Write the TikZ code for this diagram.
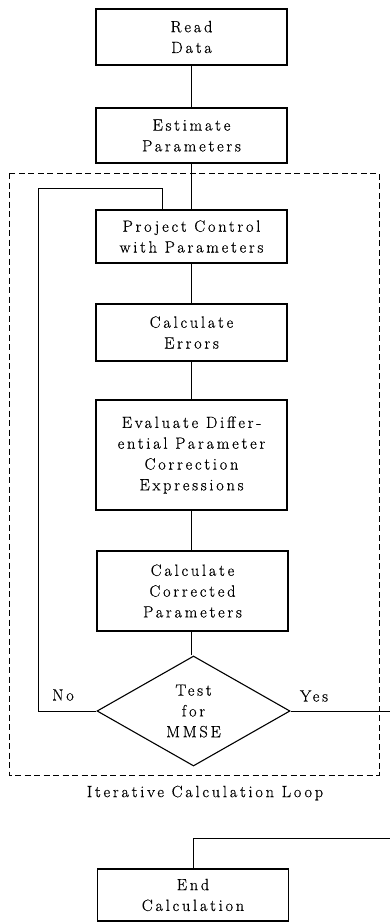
\documentclass[tikz,border=0pt]{standalone}
\usepackage{fontspec}
\setmainfont{Latin Modern Roman}[LetterSpace=17,FakeBold=0.5]
\usetikzlibrary{shapes.geometric}
\begin{document}
\begin{tikzpicture}[x=1pt,y=-1pt,
  txt/.style={font=\fontsize{16.3}{20.8}\selectfont, align=center},
  stepbox/.style={txt, draw, line width=1.1pt, minimum width=191pt, inner sep=0pt},
  conn/.style={line width=1pt},
  loopframe/.style={line width=0.9pt, dash pattern=on 6pt off 3.5pt}]
\useasboundingbox (0,0) rectangle (390,922);
\node[stepbox, minimum height=56pt] (read) at (191.5,37) {Read\\Data};
\node[stepbox, minimum height=55pt] (est) at (191.5,135.5) {Estimate\\Parameters};
\node[stepbox, minimum height=53pt] (proj) at (191.5,236.5) {Project Control\\with Parameters};
\node[stepbox, minimum height=57pt] (err) at (191.5,332.5) {Calculate\\Errors};
\node[stepbox, minimum height=110pt] (eval) at (191.5,455) {Evaluate Differ-\\ential Parameter\\Correction\\Expressions};
\node[stepbox, minimum height=80pt] (corr) at (192.5,591) {Calculate\\Corrected\\Parameters};
\node[txt, draw, line width=1.1pt, diamond, inner sep=0pt, minimum width=193pt, minimum height=110pt, aspect=1.75] (test) at (193.5,711) {Test\\for\\MMSE};
\node[stepbox, minimum height=52pt] (end) at (193,895) {End\\Calculation};
\node[txt] (no) at (63,695) {No};
\node[txt] (yes) at (314,696) {Yes};
\node[txt] (caption) at (205,793) {Iterative Calculation Loop};
\draw[loopframe] (9,173) rectangle (379,775);
\coordinate (nocorner) at (38,711);
\coordinate (lefttop) at (38,188);
\coordinate (righttop) at (162,188);
\coordinate (yesend) at (391,711);
\coordinate (endr) at (391,838);
\coordinate (endl) at (193,838);
\draw[conn] (read.south) -- (est.north);
\draw[conn] (est.south) -- (proj.north);
\draw[conn] (proj.south) -- (err.north);
\draw[conn] (err.south) -- (eval.north);
\draw[conn] (eval.south) -- (corr.north-|eval.south);
\draw[conn] (corr.south-|eval.south) -- (test.north-|eval.south);
\draw[conn] (test.west) -- (nocorner) -- (lefttop) -- (righttop) -- (righttop|-proj.north);
\draw[conn] (test.east) -- (yesend);
\draw[conn] (endr) -- (endl) -- (end.north);
\end{tikzpicture}
\end{document}
